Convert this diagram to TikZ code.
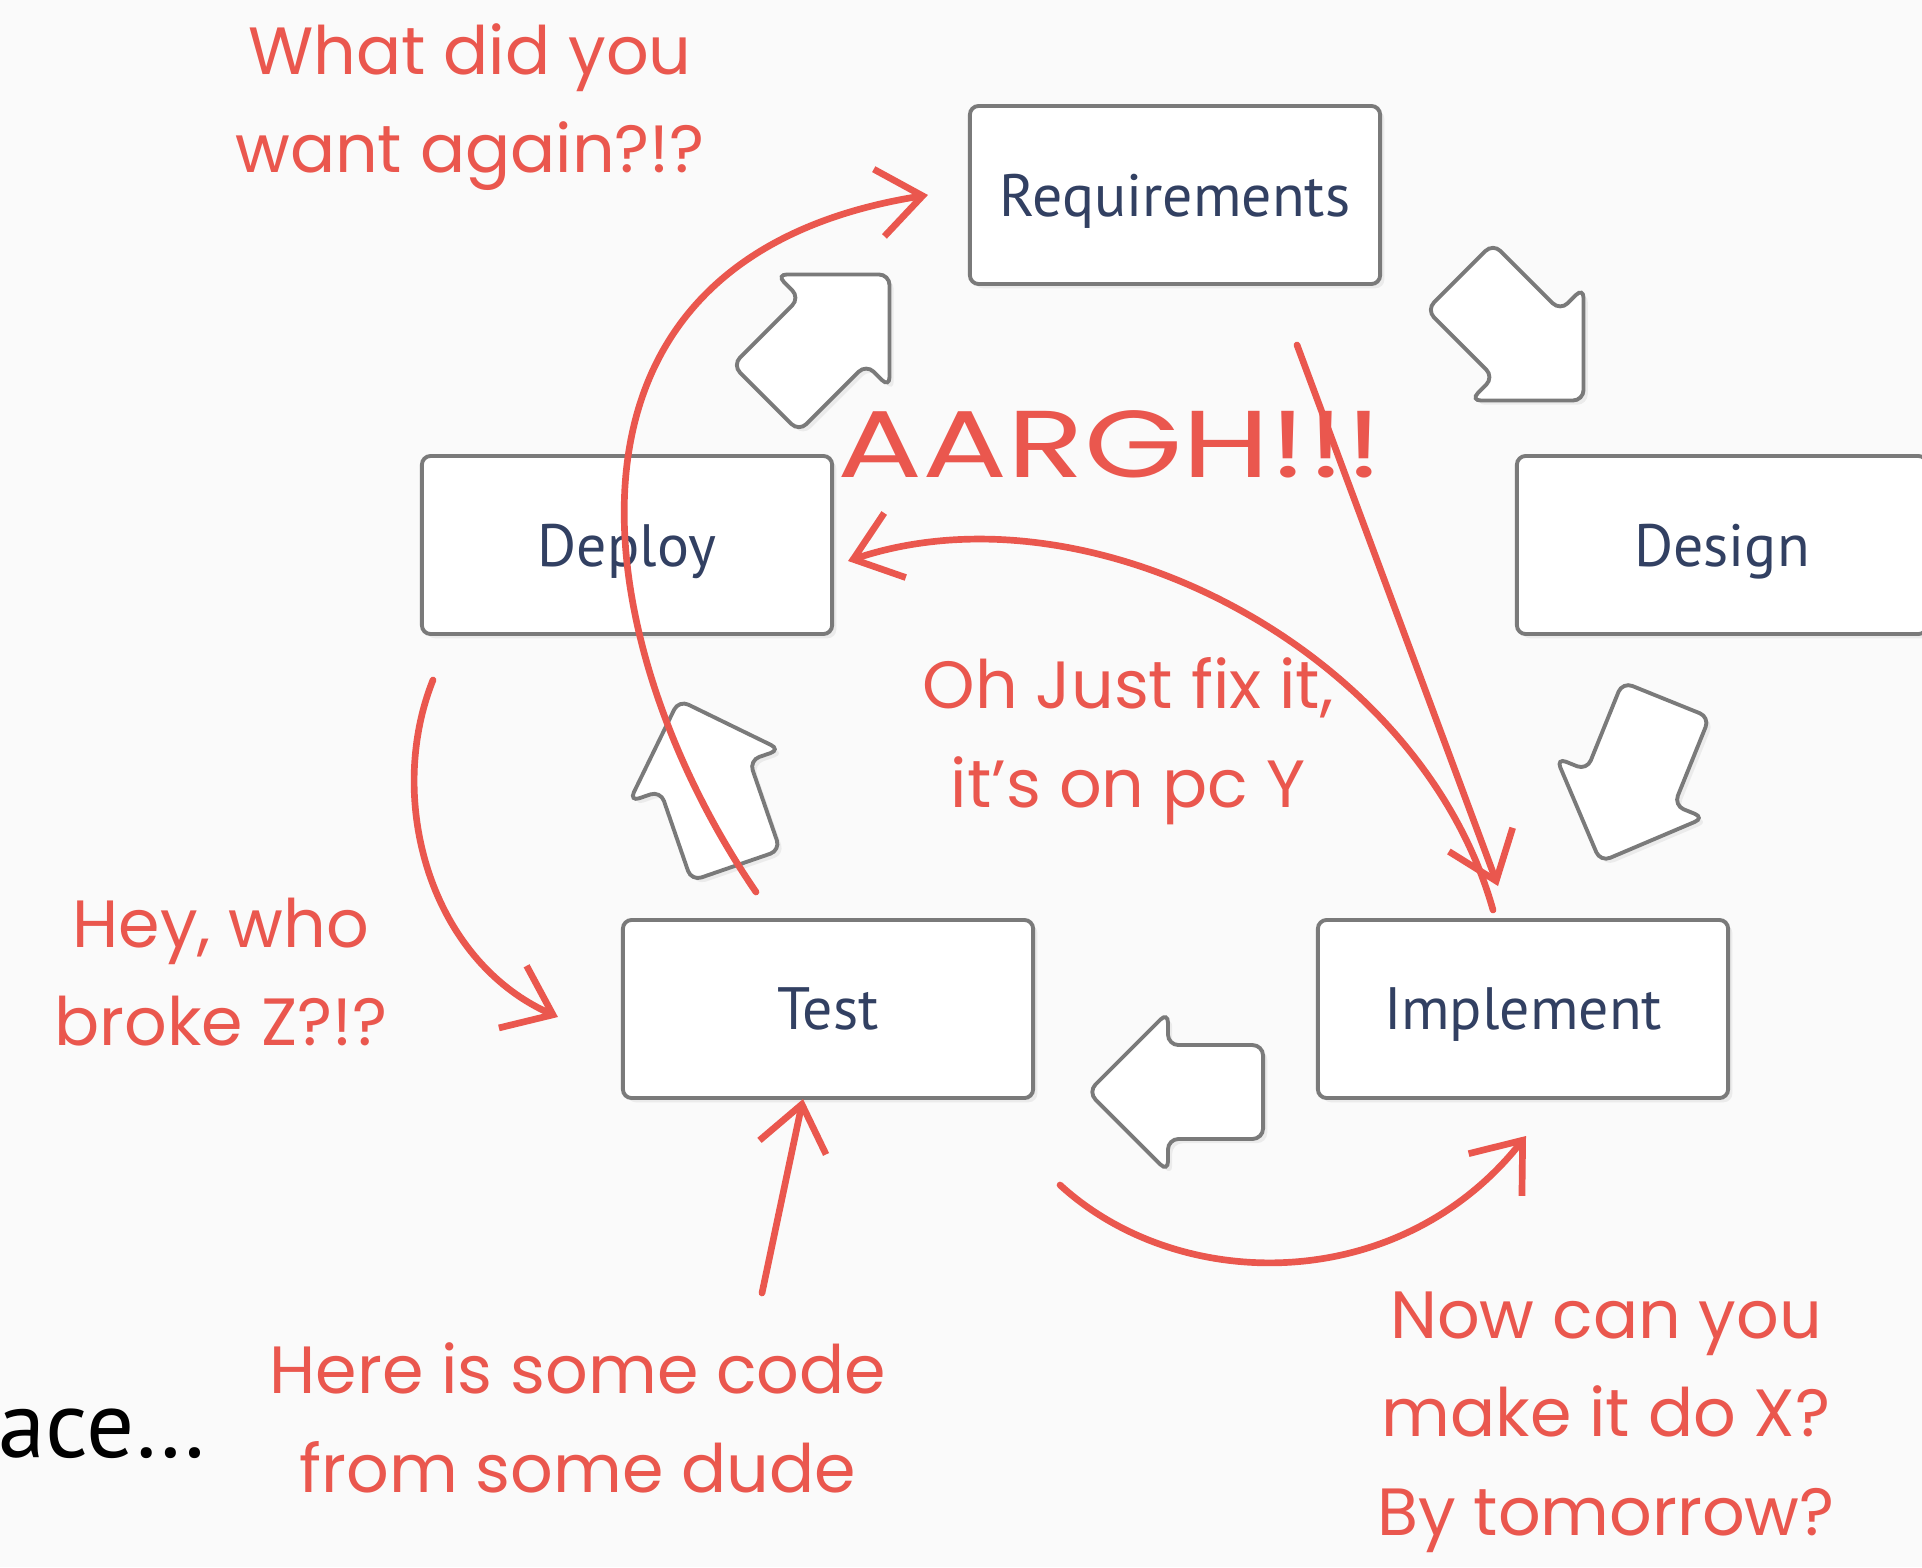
\documentclass[tikz,border=0pt]{standalone}
\usepackage{fontspec}
\usepackage{graphicx}
\setmainfont{PT Sans}
\newfontfamily\handfont{Poppins}
\usetikzlibrary{shapes.arrows,arrows.meta,calc,shadows}
\definecolor{bgcol}{RGB}{250,250,250}
\definecolor{boxline}{RGB}{122,122,122}
\definecolor{boxtext}{RGB}{50,64,98}
\definecolor{scrib}{RGB}{234,87,78}
\begin{document}
\begin{tikzpicture}[x=0.01cm,y=-0.01cm,
    stage/.style={draw=boxline,fill=white,line width=1.1pt,rounded corners=2.5pt,
      minimum width=4.1cm,minimum height=1.78cm,text=boxtext,text depth=0pt,
      font=\fontsize{17}{20}\selectfont,
      drop shadow={opacity=0.12,shadow xshift=1.2pt,shadow yshift=-1.2pt}},
    flow/.style={single arrow,draw=boxline,fill=white,line width=1.1pt,rounded corners=3pt,
      minimum height=1.75cm,inner xsep=0pt,inner ysep=0.45cm,
      single arrow head extend=0.33cm,
      drop shadow={opacity=0.12,shadow xshift=1.2pt,shadow yshift=-1.2pt}},
    scribble/.style={draw=scrib,line width=1.9pt,line cap=round,
      -{Straight Barb[length=4.4mm,width=6.8mm]}},
    note/.style={text=scrib,font=\handfont\fontsize{19}{28}\selectfont,align=center}]
  \useasboundingbox (0,0) rectangle (1922,1567);
  \fill[bgcol] (0,0) rectangle (1922,1567);
  \node[stage] (req) at (1175,195) {Requirements};
  \node[stage] (design) at (1722,545) {Design};
  \node[stage] (deploy) at (627,545) {Deploy};
  \node[stage] (test) at (828,1009) {Test};
  \node[stage] (impl) at (1523,1009) {Implement};
  \node[flow,rotate=-45] (toDesign) at (1505,322) {};
  \node[flow,rotate=-112] (toImpl) at (1642,759) {};
  \node[flow,rotate=180] (toTest) at (1199,1092) {};
  \node[flow,rotate=109] (toDeploy) at (715,805) {};
  \node[flow,rotate=45] (toReq) at (811,353) {};
  \coordinate (aarghstart) at ($(req.south)+(122,59)$);
  \coordinate (codestart) at (762,1293);
  \draw[scribble] ($(test.north)+(-72,-26)$) .. controls (590,650) and (520,260) .. ($(req.west)+(-40,0)$);
  \draw[scribble] (aarghstart) -- ($(impl.north)+(-25,-32)$);
  \draw[scribble] ($(impl.north)+(-30,-8)$) .. controls (1420,650) and (1090,480) .. ($(deploy.east)+(14,16)$);
  \draw[scribble] ($(deploy.south)+(-194,44)$) .. controls (385,800) and (430,960) .. ($(test.west)+(-63,8)$);
  \draw[scribble] (codestart) -- ($(test.south)+(-25,-1)$);
  \draw[scribble] ($(test.south)+(232,85)$) .. controls (1180,1295) and (1400,1295) .. ($(impl.south)+(3,36)$);
  \node[note] (wantagain) at (470,107) {What did you\\want again?!?};
  \node[note,font=\handfont\fontsize{27}{32}\selectfont] (aargh) at (1110,444) {\scalebox{1.33}[1]{AARGH!!!}};
  \node[note] (fixit) at (1128,741) {Oh Just fix it,\\it’s on pc Y};
  \node[note] (brokez) at (221,972) {Hey, who\\broke Z?!?};
  \node[note] (somecode) at (578,1418) {Here is some code\\from some dude};
  \node[note] (tomorrow) at (1606,1422) {Now can you\\make it do X?\\By tomorrow?};
  \node[font=\fontsize{27}{32}\selectfont,anchor=base east,inner sep=0pt] (slide) at (207,1457) {ace…};
\end{tikzpicture}
\end{document}
